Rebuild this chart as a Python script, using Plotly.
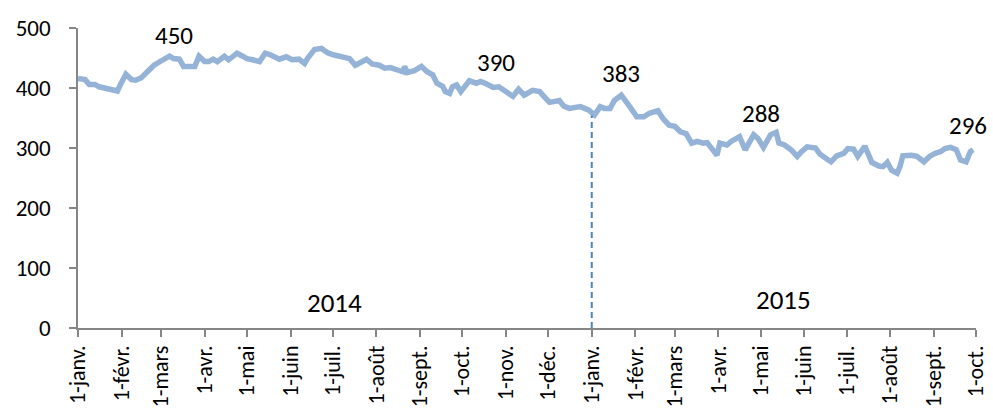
import plotly.graph_objects as go
import numpy as np
import pandas as pd

dates = [
    "2014-01-01","2014-01-06","2014-01-09","2014-01-13","2014-01-16","2014-01-22","2014-01-29","2014-01-31",
    "2014-02-04","2014-02-08","2014-02-11","2014-02-15","2014-02-18","2014-02-24","2014-03-01","2014-03-07",
    "2014-03-10","2014-03-14","2014-03-17","2014-03-21","2014-03-25","2014-03-28","2014-04-01","2014-04-04",
    "2014-04-07","2014-04-10","2014-04-15","2014-04-18","2014-04-24","2014-04-28","2014-05-01","2014-05-05",
    "2014-05-10","2014-05-14","2014-05-18","2014-05-24","2014-05-29","2014-06-02","2014-06-07","2014-06-11",
    "2014-06-13","2014-06-18","2014-06-23","2014-06-26","2014-06-28","2014-07-02","2014-07-06","2014-07-09",
    "2014-07-13","2014-07-17","2014-07-21","2014-07-25","2014-07-29","2014-08-03","2014-08-07","2014-08-11",
    "2014-08-16","2014-08-20","2014-08-21","2014-08-23","2014-08-28","2014-09-02","2014-09-06","2014-09-10",
    "2014-09-13","2014-09-17","2014-09-19","2014-09-22","2014-09-24","2014-09-27","2014-09-30","2014-10-06",
    "2014-10-11","2014-10-14","2014-10-18","2014-10-23","2014-10-27","2014-11-01","2014-11-06","2014-11-10",
    "2014-11-14","2014-11-20","2014-11-25","2014-11-28","2014-12-02","2014-12-09","2014-12-12","2014-12-16",
    "2014-12-21","2014-12-24","2014-12-30","2015-01-03","2015-01-07","2015-01-10","2015-01-14","2015-01-17",
    "2015-01-22","2015-01-25","2015-01-28","2015-02-02","2015-02-07","2015-02-11","2015-02-17","2015-02-21",
    "2015-02-25","2015-03-01","2015-03-05","2015-03-09","2015-03-13","2015-03-17","2015-03-21","2015-03-24",
    "2015-03-27","2015-03-31","2015-04-02","2015-04-07","2015-04-10","2015-04-16","2015-04-20","2015-04-26",
    "2015-04-29","2015-05-03","2015-05-08","2015-05-12","2015-05-14","2015-05-18","2015-05-23","2015-05-27",
    "2015-05-30","2015-06-03","2015-06-09","2015-06-12","2015-06-18","2015-06-20","2015-06-24","2015-06-29",
    "2015-07-02","2015-07-06","2015-07-09","2015-07-12","2015-07-14","2015-07-19","2015-07-24","2015-07-27",
    "2015-07-30","2015-08-02","2015-08-06","2015-08-08","2015-08-10","2015-08-16","2015-08-20","2015-08-25",
    "2015-08-29","2015-09-02","2015-09-06","2015-09-09","2015-09-13","2015-09-17","2015-09-20","2015-09-24",
    "2015-09-27","2015-09-29",
]

values = [
    416, 414, 406, 406, 402, 399, 395, 405,
    423, 414, 413, 417, 424, 438, 445, 453,
    449, 448, 436, 435, 436, 453, 444, 444,
    448, 444, 453, 447, 458, 453, 449, 447,
    444, 458, 455, 448, 452, 447, 448, 441,
    449, 464, 466, 461, 458, 455, 453, 452,
    449, 438, 444, 448, 440, 438, 433, 434,
    430, 427, 436, 426, 429, 436, 427, 422,
    408, 403, 394, 391, 402, 405, 394, 412,
    408, 411, 407, 401, 402, 394, 386, 398,
    388, 396, 394, 386, 376, 379, 370, 366,
    369, 369, 363, 355, 369, 366, 366, 379,
    388, 377, 369, 352, 352, 358, 362, 348,
    338, 336, 327, 324, 308, 311, 308, 309,
    300, 288, 308, 305, 311, 319, 297, 322,
    316, 301, 322, 326, 308, 305, 296, 286,
    294, 302, 300, 290, 280, 277, 287, 291,
    299, 298, 286, 299, 303, 276, 270, 269,
    276, 263, 258, 269, 287, 288, 286, 277,
    286, 291, 294, 299, 301, 297, 280, 277,
    294, 297,
]

tick_dates = ["2014-01-01","2014-02-01","2014-03-01","2014-04-01","2014-05-01","2014-06-01",
              "2014-07-01","2014-08-01","2014-09-01","2014-10-01","2014-11-01","2014-12-01",
              "2015-01-01","2015-02-01","2015-03-01","2015-04-01","2015-05-01","2015-06-01",
              "2015-07-01","2015-08-01","2015-09-01","2015-10-01"]
tick_labels = ["1-janv.","1-févr.","1-mars","1-avr.","1-mai","1-juin","1-juil.","1-août",
               "1-sept.","1-oct.","1-nov.","1-déc.",
               "1-janv.","1-févr.","1-mars","1-avr.","1-mai","1-juin","1-juil.","1-août",
               "1-sept.","1-oct."]

y_ticks = [0, 100, 200, 300, 400, 500]

# callout labels: text, anchor date, anchor height
callout_text = ["450", "465", "390", "383", "288", "296"]
callout_date = ["2014-03-10", "2014-06-27", "2014-10-25", "2015-01-22", "2015-05-01", "2015-09-25"]
callout_y = [488, 503, 442, 425, 357, 337]

year_text = ["2014", "2015"]
year_date = ["2014-07-02", "2015-05-17"]
year_y = [43, 47]

divider_date = "2015-01-01"

FONT = "Carlito, Lato, 'Liberation Sans', sans-serif"
AXIS = "#868686"

fig = go.Figure()
fig.add_trace(go.Scatter(
    x=pd.to_datetime(dates), y=values, mode="lines",
    line=dict(color="#95B3D7", width=5.5), hoverinfo="x+y", showlegend=False,
))

# divider height from the series at that date
ts = pd.to_datetime(dates).astype("int64")
div_val = float(np.interp(pd.Timestamp(divider_date).value, ts, values))
fig.add_shape(type="line", xref="x", yref="y", x0=divider_date, x1=divider_date,
              y0=0, y1=div_val - 5, line=dict(color="#4F81BD", width=2, dash="6px,4px"))

for t, d, y in zip(callout_text, callout_date, callout_y):
    fig.add_annotation(x=d, y=y, text=t, showarrow=False, xanchor="center", yanchor="middle",
                       font=dict(family=FONT, size=25, color="#000000"))
for t, d, y in zip(year_text, year_date, year_y):
    fig.add_annotation(x=d, y=y, text=t, showarrow=False, xanchor="center", yanchor="middle",
                       font=dict(family=FONT, size=27, color="#000000"))

fig.update_layout(
    width=993, height=408,
    margin=dict(l=78, r=17, t=28, b=80),
    paper_bgcolor="white", plot_bgcolor="white",
    font=dict(family=FONT, size=22, color="#000000"),
)
fig.update_xaxes(
    range=[tick_dates[0], tick_dates[-1]], tickvals=tick_dates, ticktext=tick_labels,
    tickangle=-90, showgrid=False, zeroline=False, showline=True, linecolor=AXIS, linewidth=1.5,
    ticks="outside", ticklen=7, tickcolor=AXIS, tickwidth=1.5, automargin=False,
    tickfont=dict(family=FONT, size=22, color="#000000"),
)
fig.update_yaxes(
    range=[0, 500], tickvals=y_ticks, showgrid=False, zeroline=False,
    showline=True, linecolor=AXIS, linewidth=1.5, ticks="outside", ticklen=7,
    tickcolor=AXIS, tickwidth=1.5, ticklabelstandoff=14, automargin=False,
    tickfont=dict(family=FONT, size=23, color="#000000"),
)

fig.write_html("out.html", config={"displayModeBar": False},
               post_script="document.body.style.margin='0';document.body.style.overflow='hidden';")
